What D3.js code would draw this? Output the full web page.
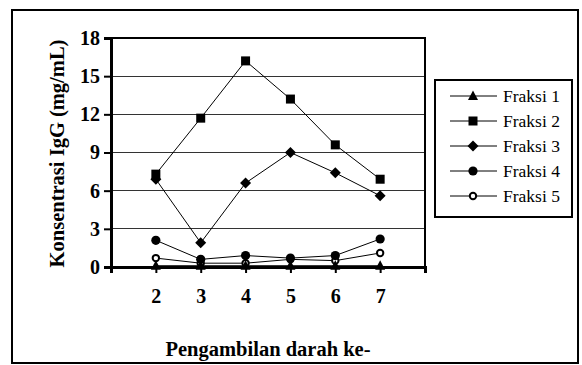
<!DOCTYPE html>
<html>
<head>
<meta charset="utf-8">
<script src="https://cdn.jsdelivr.net/npm/d3@7"></script>
<style>
  html, body { margin: 0; padding: 0; background: #fff; }
  svg { display: block; }
  text { font-family: "Liberation Serif", "Times New Roman", serif; fill: #000; }
</style>
</head>
<body>
<svg id="chart" width="582" height="365"></svg>
<script>
// Sampling rounds (x) and IgG concentration per fraction (mg/mL)
const samples = [2, 3, 4, 5, 6, 7];
const seriesNames = ["Fraksi 1", "Fraksi 2", "Fraksi 3", "Fraksi 4", "Fraksi 5"];
const fraksi1 = [0.1, 0.1, 0.1, 0.1, 0.1, 0.1];
const fraksi2 = [7.3, 11.7, 16.2, 13.2, 9.6, 6.9];
const fraksi3 = [6.9, 1.9, 6.6, 9.0, 7.4, 5.6];
const fraksi4 = [2.1, 0.6, 0.9, 0.7, 0.9, 2.2];
const fraksi5 = [0.7, 0.3, 0.3, 0.6, 0.5, 1.1];
const yTicks = [0, 3, 6, 9, 12, 15, 18];
const xTickLabels = ["2", "3", "4", "5", "6", "7"];
const yTitle = "Konsentrasi IgG (mg/mL)";
const xTitle = "Pengambilan darah ke-";

const seriesValues = [fraksi1, fraksi2, fraksi3, fraksi4, fraksi5];
const markerKinds = ["triangle", "square", "diamond", "circle", "ring"];

const svg = d3.select("#chart");

// outer chart frame
svg.append("rect")
  .attr("x", 12).attr("y", 10).attr("width", 566).attr("height", 353)
  .attr("fill", "none").attr("stroke", "#000").attr("stroke-width", 2);

const plot = { left: 111, right: 425, top: 38, bottom: 267 };
const x = d3.scaleLinear().domain([1, 8]).range([plot.left, plot.right]);
const y = d3.scaleLinear().domain([0, 18]).range([plot.bottom, plot.top]);

// horizontal gridlines
svg.append("g").selectAll("line")
  .data(yTicks.filter(v => v > 0 && v < 18))
  .join("line")
  .attr("x1", plot.left).attr("x2", plot.right)
  .attr("y1", d => y(d)).attr("y2", d => y(d))
  .attr("stroke", "#333").attr("stroke-width", 1).attr("shape-rendering", "crispEdges");

// plot area border (top and right)
svg.append("path")
  .attr("d", `M${plot.left},${plot.top}H${plot.right}V${plot.bottom}`)
  .attr("fill", "none").attr("stroke", "#000").attr("stroke-width", 2);

// y axis
const yAxis = d3.axisLeft(y).tickValues(yTicks).tickSize(7).tickPadding(4).tickFormat(d3.format("d"));
const gy = svg.append("g").attr("transform", `translate(${plot.left},0)`).call(yAxis);
gy.select(".domain").attr("stroke", "#000").attr("stroke-width", 3);
gy.selectAll(".tick line").attr("stroke", "#000").attr("stroke-width", 2);
gy.selectAll(".tick text")
  .style("font-family", '"Liberation Serif", serif')
  .style("font-size", "20px").style("font-weight", "bold");

// x axis: ticks at every integer position, labels on sampling rounds
const xAxis = d3.axisBottom(x).tickValues(d3.range(1, 9)).tickSize(6).tickPadding(16)
  .tickFormat(d => samples.includes(d) ? xTickLabels[samples.indexOf(d)] : "");
const gx = svg.append("g").attr("transform", `translate(0,${plot.bottom})`).call(xAxis);
gx.select(".domain").attr("stroke", "#000").attr("stroke-width", 3);
gx.selectAll(".tick line").attr("stroke", "#000").attr("stroke-width", 2);
gx.selectAll(".tick text")
  .style("font-family", '"Liberation Serif", serif')
  .style("font-size", "20px").style("font-weight", "bold");

// axis titles
svg.append("text")
  .attr("transform", `translate(64,${(plot.top + plot.bottom) / 2 + 1}) rotate(-90)`)
  .attr("text-anchor", "middle")
  .style("font-size", "20.5px").style("font-weight", "bold")
  .text(yTitle);
svg.append("text")
  .attr("x", (plot.left + plot.right) / 2).attr("y", 356)
  .attr("text-anchor", "middle")
  .style("font-size", "20.5px").style("font-weight", "bold")
  .text(xTitle);

// marker drawing
function drawMarker(g, kind, cx, cy) {
  if (kind === "triangle") {
    g.append("path").attr("d", `M${cx},${cy - 5.5}L${cx + 5},${cy + 4}L${cx - 5},${cy + 4}Z`).attr("fill", "#000");
  } else if (kind === "square") {
    g.append("rect").attr("x", cx - 4.5).attr("y", cy - 4.5).attr("width", 9).attr("height", 9).attr("fill", "#000");
  } else if (kind === "diamond") {
    g.append("path").attr("d", `M${cx},${cy - 5.5}L${cx + 5.5},${cy}L${cx},${cy + 5.5}L${cx - 5.5},${cy}Z`).attr("fill", "#000");
  } else if (kind === "circle") {
    g.append("circle").attr("cx", cx).attr("cy", cy).attr("r", 4.6).attr("fill", "#000");
  } else {
    g.append("circle").attr("cx", cx).attr("cy", cy).attr("r", 3.2).attr("fill", "#fff")
      .attr("stroke", "#000").attr("stroke-width", 2);
  }
}

const line = d3.line().x((d, i) => x(samples[i])).y(d => y(d));

// series lines and markers (drawn last-to-first so upper series sit on top)
const order = [4, 3, 2, 1, 0];
order.forEach(si => {
  const g = svg.append("g");
  g.append("path").attr("d", line(seriesValues[si]))
    .attr("fill", "none").attr("stroke", "#000").attr("stroke-width", 1);
  seriesValues[si].forEach((v, i) => drawMarker(g, markerKinds[si], x(samples[i]), y(v)));
});

// legend
const lg = svg.append("g");
lg.append("rect").attr("x", 435).attr("y", 80).attr("width", 137).attr("height", 137)
  .attr("fill", "#fff").attr("stroke", "#000").attr("stroke-width", 2);
seriesNames.forEach((name, i) => {
  const ly = 96 + i * 25;
  lg.append("line").attr("x1", 450).attr("x2", 497).attr("y1", ly).attr("y2", ly)
    .attr("stroke", "#000").attr("stroke-width", 1);
  drawMarker(lg, markerKinds[i], 473, ly);
  lg.append("text").attr("x", 503).attr("y", ly + 6)
    .style("font-size", "17.5px").text(name);
});
</script>
</body>
</html>
